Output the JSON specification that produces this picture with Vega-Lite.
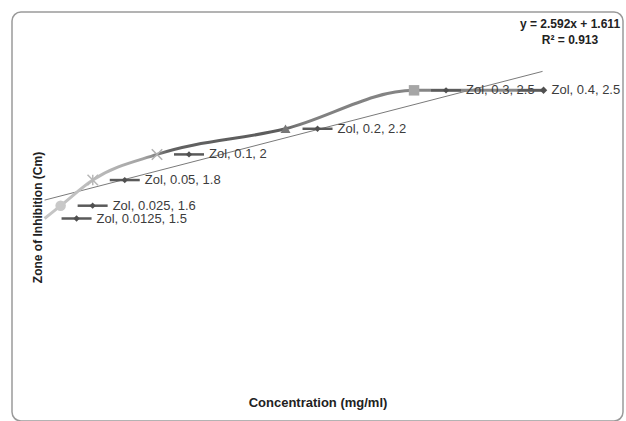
{
  "$schema": "https://vega.github.io/schema/vega-lite/v6.json",
  "width": 611,
  "height": 409,
  "autosize": {"type": "none"},
  "padding": {"left": 12, "top": 12, "right": 3, "bottom": 0},
  "background": "white",
  "config": {
    "view": {"stroke": "#9a9a9a", "strokeWidth": 1.5, "cornerRadius": 9},
    "font": "Liberation Sans"
  },
  "title": {
    "text": ["y = 2.592x + 1.611", "R² = 0.913"],
    "anchor": "end",
    "align": "center",
    "baseline": "top",
    "offset": -4,
    "dy": 31,
    "dx": -53,
    "fontSize": 12,
    "fontWeight": "bold",
    "color": "#222222",
    "lineHeight": 16,
    "font": "Liberation Sans"
  },
  "datasets": {
    "pts": [
      {"conc": 0.0125, "zone": 1.5, "label": "Zol, 0.0125, 1.5"},
      {"conc": 0.025, "zone": 1.6, "label": "Zol, 0.025, 1.6"},
      {"conc": 0.05, "zone": 1.8, "label": "Zol, 0.05, 1.8"},
      {"conc": 0.1, "zone": 2.0, "label": "Zol, 0.1, 2"},
      {"conc": 0.2, "zone": 2.2, "label": "Zol, 0.2, 2.2"},
      {"conc": 0.3, "zone": 2.5, "label": "Zol, 0.3, 2.5"},
      {"conc": 0.4, "zone": 2.5, "label": "Zol, 0.4, 2.5"}
    ],
    "trend": [
      {"conc": 0.0125, "zone": 1.6434},
      {"conc": 0.4, "zone": 2.6478}
    ]
  },
  "encoding": {
    "x": {
      "field": "conc", "type": "quantitative",
      "scale": {"domain": [-0.01284, 0.4626], "nice": false, "zero": false},
      "axis": {
        "title": "Concentration (mg/ml)", "domain": false, "ticks": false, "labels": false, "grid": false,
        "titleFontSize": 13, "titleFontWeight": "bold", "titleColor": "#222222",
        "titleY": -19, "titleBaseline": "middle", "titleFont": "Liberation Sans"
      }
    },
    "y": {
      "field": "zone", "type": "quantitative",
      "scale": {"domain": [-0.0796, 3.111], "nice": false, "zero": false},
      "axis": {
        "title": "Zone of Inhibition (Cm)", "domain": false, "ticks": false, "labels": false, "grid": false,
        "titleFontSize": 12, "titleFontWeight": "bold", "titleColor": "#222222",
        "titleX": 25, "titleY": 205, "titleAngle": -90, "titleAlign": "center", "titleBaseline": "middle",
        "titleFont": "Liberation Sans"
      }
    }
  },
  "layer": [
    {
      "data": {"name": "trend"},
      "mark": {"type": "line", "stroke": "#7a7a7a", "strokeWidth": 1}
    },
    {
      "data": {"name": "pts"},
      "mark": {
        "type": "line", "interpolate": "monotone", "strokeWidth": 3,
        "stroke": {
          "gradient": "linear",
          "stops": [
            {"offset": 0, "color": "#c6c6c6"},
            {"offset": 0.1, "color": "#bcbcbc"},
            {"offset": 0.2, "color": "#a2a2a2"},
            {"offset": 0.25, "color": "#626262"},
            {"offset": 0.47, "color": "#5c5c5c"},
            {"offset": 0.52, "color": "#808080"},
            {"offset": 1, "color": "#8a8a8a"}
          ]
        }
      }
    },
    {
      "data": {"name": "pts"},
      "transform": [{"filter": "datum.conc == 0.025"}],
      "mark": {"type": "point", "shape": "circle", "filled": true, "size": 110, "color": "#c8c8c8", "opacity": 1}
    },
    {
      "data": {"name": "pts"},
      "transform": [{"filter": "datum.conc == 0.05"}],
      "mark": {"type": "point", "shape": "M-1,-1L1,1M1,-1L-1,1M0,-1L0,1", "filled": false, "size": 110, "stroke": "#b8b8b8", "strokeWidth": 1.5, "opacity": 1}
    },
    {
      "data": {"name": "pts"},
      "transform": [{"filter": "datum.conc == 0.1"}],
      "mark": {"type": "point", "shape": "M-1,-1L1,1M1,-1L-1,1", "filled": false, "size": 110, "stroke": "#b0b0b0", "strokeWidth": 1.5, "opacity": 1}
    },
    {
      "data": {"name": "pts"},
      "transform": [{"filter": "datum.conc == 0.2"}],
      "mark": {"type": "point", "shape": "triangle-up", "filled": true, "size": 100, "color": "#777777", "opacity": 1}
    },
    {
      "data": {"name": "pts"},
      "transform": [{"filter": "datum.conc == 0.3"}],
      "mark": {"type": "point", "shape": "square", "filled": true, "size": 110, "color": "#a6a6a6", "opacity": 1}
    },
    {
      "data": {"name": "pts"},
      "transform": [{"filter": "datum.conc < 0.35"}],
      "mark": {"type": "tick", "orient": "horizontal", "size": 30, "thickness": 2.5, "xOffset": 32, "color": "#5a5a5a", "opacity": 1}
    },
    {
      "data": {"name": "pts"},
      "transform": [{"filter": "datum.conc < 0.35"}],
      "mark": {"type": "point", "shape": "diamond", "filled": true, "size": 40, "xOffset": 32, "color": "#505050", "opacity": 1}
    },
    {
      "data": {"name": "pts"},
      "transform": [{"filter": "datum.conc < 0.35"}],
      "mark": {"type": "text", "align": "left", "baseline": "middle", "dx": 52, "fontSize": 13, "color": "#3c3c3c", "font": "Liberation Sans"},
      "encoding": {"text": {"field": "label"}}
    },
    {
      "data": {"name": "pts"},
      "transform": [{"filter": "datum.conc > 0.35"}],
      "mark": {"type": "tick", "orient": "horizontal", "size": 26, "thickness": 2.5, "xOffset": -12, "color": "#5a5a5a", "opacity": 1}
    },
    {
      "data": {"name": "pts"},
      "transform": [{"filter": "datum.conc > 0.35"}],
      "mark": {"type": "point", "shape": "diamond", "filled": true, "size": 55, "xOffset": 1, "color": "#505050", "opacity": 1}
    },
    {
      "data": {"name": "pts"},
      "transform": [{"filter": "datum.conc > 0.35"}],
      "mark": {"type": "text", "align": "left", "baseline": "middle", "dx": 9, "fontSize": 13, "color": "#3c3c3c", "font": "Liberation Sans"},
      "encoding": {"text": {"field": "label"}}
    }
  ]
}
